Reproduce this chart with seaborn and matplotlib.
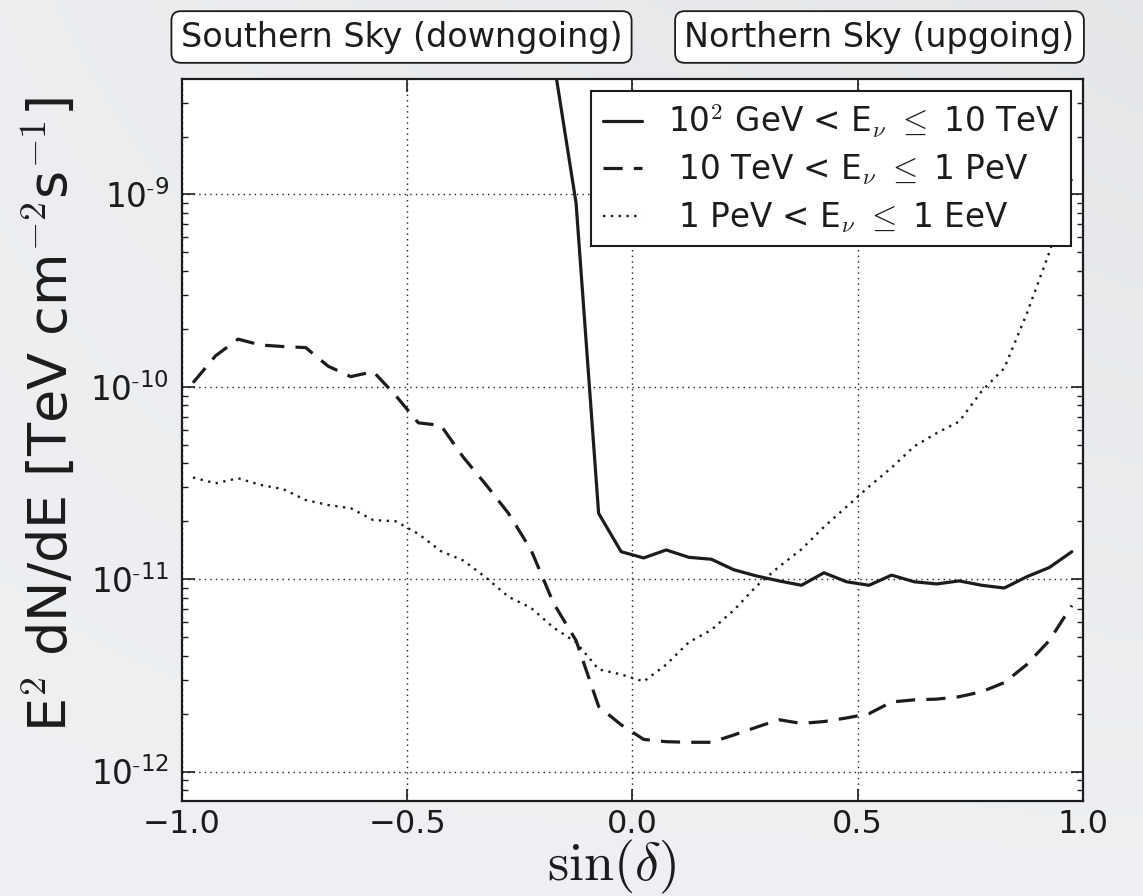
import numpy as np
import pandas as pd
import matplotlib
matplotlib.use("Agg")
import matplotlib.pyplot as plt
import seaborn as sns
from matplotlib.ticker import LogLocator, NullFormatter, FixedLocator

# ---------------- data ----------------
sin_dec = [-0.975, -0.925, -0.875, -0.825, -0.775, -0.725, -0.675, -0.625,
           -0.575, -0.525, -0.475, -0.425, -0.375, -0.325, -0.275, -0.225,
           -0.175, -0.125, -0.075, -0.025, 0.025, 0.075, 0.125, 0.175,
           0.225, 0.275, 0.325, 0.375, 0.425, 0.475, 0.525, 0.575,
           0.625, 0.675, 0.725, 0.775, 0.825, 0.875, 0.925, 0.975]

sin_dec_low = [-0.175, -0.125, -0.075, -0.025, 0.025, 0.075, 0.125, 0.175,
               0.225, 0.275, 0.325, 0.375, 0.425, 0.475, 0.525, 0.575,
               0.625, 0.675, 0.725, 0.775, 0.825, 0.875, 0.925, 0.975]

flux_low = [5.0e-9, 9.0e-10, 2.2e-11, 1.39e-11, 1.29e-11, 1.42e-11, 1.30e-11, 1.27e-11,
            1.12e-11, 1.04e-11, 9.8e-12, 9.3e-12, 1.08e-11, 9.7e-12, 9.3e-12, 1.05e-11,
            9.7e-12, 9.45e-12, 9.8e-12, 9.3e-12, 9.0e-12, 1.03e-11, 1.15e-11, 1.39e-11]

flux_mid = [1.05e-10, 1.45e-10, 1.77e-10, 1.65e-10, 1.62e-10, 1.60e-10, 1.28e-10, 1.13e-10,
            1.20e-10, 9.0e-11, 6.5e-11, 6.3e-11, 4.3e-11, 3.1e-11, 2.2e-11, 1.42e-11,
            7.5e-12, 4.8e-12, 2.18e-12, 1.75e-12, 1.47e-12, 1.43e-12, 1.42e-12, 1.42e-12,
            1.55e-12, 1.7e-12, 1.86e-12, 1.78e-12, 1.82e-12, 1.9e-12, 2.0e-12, 2.3e-12,
            2.36e-12, 2.38e-12, 2.45e-12, 2.6e-12, 2.9e-12, 3.6e-12, 4.8e-12, 7.3e-12]

flux_high = [3.38e-11, 3.15e-11, 3.35e-11, 3.09e-11, 2.94e-11, 2.58e-11, 2.43e-11, 2.34e-11,
             2.03e-11, 2.0e-11, 1.72e-11, 1.40e-11, 1.25e-11, 1.02e-11, 8.1e-12, 7.1e-12,
             5.6e-12, 4.7e-12, 3.4e-12, 3.2e-12, 2.94e-12, 3.6e-12, 4.7e-12, 5.45e-12,
             6.9e-12, 9.2e-12, 1.16e-11, 1.43e-11, 1.87e-11, 2.38e-11, 3.03e-11, 3.8e-11,
             4.9e-11, 5.75e-11, 6.6e-11, 9.5e-11, 1.25e-10, 2.4e-10, 5.0e-10, 1.2e-9]

labels = [r'10$^2$ GeV < E$_\nu$ $\leq$ 10 TeV',
          r' 10 TeV < E$_\nu$ $\leq$ 1 PeV',
          r' 1 PeV < E$_\nu$ $\leq$ 1 EeV']

x_ticks = [-1.0, -0.5, 0.0, 0.5, 1.0]
x_ticklabels = ['\u22121.0', '\u22120.5', '0.0', '0.5', '1.0']
y_ticks = [1e-12, 1e-11, 1e-10, 1e-9]
y_ticklabels = [r'$\mathdefault{10^{\text{-}12}}$', r'$\mathdefault{10^{\text{-}11}}$',
                r'$\mathdefault{10^{\text{-}10}}$', r'$\mathdefault{10^{\text{-}9}}$']

box_texts = ['Southern Sky (downgoing)', 'Northern Sky (upgoing)']

# ---------------- style ----------------
sns.set_theme(style='ticks')
plt.rcParams['font.family'] = ['DejaVu Sans']
plt.rcParams['mathtext.fontset'] = 'cm'
plt.rcParams['axes.unicode_minus'] = True

ink = '#1c1c1c'

fig = plt.figure(figsize=(11.43, 8.96), dpi=100)

# subtle slide-like background gradient
H, W = 896, 1143
gx = np.linspace(0.0, 1.0, W)[None, :]
gy = np.linspace(0.0, 1.0, H)[:, None]
shade = 0.935 - 0.03 * gx * (1.0 - gy) + 0.01 * gy
bg_img = np.dstack([shade - 0.012, shade - 0.004, shade + 0.006]).clip(0, 1)
bg_ax = fig.add_axes([0, 0, 1, 1], zorder=-10)
bg_ax.imshow(bg_img, aspect='auto', interpolation='bilinear')
bg_ax.set_axis_off()

ax = fig.add_axes([0.159, 0.1064, 0.7886, 0.8051])
ax.set_facecolor('white')

sns.lineplot(x=sin_dec_low, y=flux_low, ax=ax, color=ink, lw=2.3,
             estimator=None, sort=False, label=labels[0])
sns.lineplot(x=sin_dec, y=flux_mid, ax=ax, color=ink, lw=2.3,
             linestyle=(0, (6, 3.5)), estimator=None, sort=False, label=labels[1])
sns.lineplot(x=sin_dec, y=flux_high, ax=ax, color=ink, lw=1.7,
             linestyle=(0, (1, 2.3)), estimator=None, sort=False, label=labels[2])

ax.set_yscale('log')
ax.set_xlim(-1.0, 1.0)
ax.set_ylim(7.06e-13, 3.97e-9)

ax.set_xticks(x_ticks)
ax.set_xticklabels(x_ticklabels)
ax.yaxis.set_major_locator(FixedLocator(y_ticks))
ax.set_yticklabels(y_ticklabels)
ax.yaxis.set_minor_locator(LogLocator(base=10, subs=np.arange(2, 10), numticks=20))
ax.yaxis.set_minor_formatter(NullFormatter())

ax.tick_params(axis='both', which='major', direction='in', length=9, width=1.2,
               top=True, right=True, colors=ink)
ax.tick_params(axis='x', which='major', labelsize=23, pad=6)
ax.tick_params(axis='y', which='major', labelsize=23.5, pad=9)
ax.tick_params(axis='y', which='minor', direction='in', length=4.5, width=1.0,
               left=True, right=True, colors=ink)
for sp in ax.spines.values():
    sp.set_visible(True)
    sp.set_linewidth(1.6)
    sp.set_color(ink)

ax.grid(True, which='major', linestyle=(0, (1, 3)), color=ink, linewidth=1.0)

ax.set_ylabel(r'E$^2$ dN/dE [TeV cm$^{-2}$s$^{-1}$]', fontsize=39, color=ink)
ax.yaxis.set_label_coords(-0.116, 0.535)
ax.set_xlabel(r'$\sin(\delta)$', fontsize=39, color=ink)
ax.xaxis.set_label_coords(0.477, -0.052)

leg = ax.legend(loc='upper right', bbox_to_anchor=(0.9867, 0.9838), borderaxespad=0,
                fontsize=23.5, frameon=True, fancybox=False, handlelength=1.2,
                handletextpad=0.8, labelspacing=0.4, borderpad=0.35)
leg.get_frame().set_edgecolor(ink)
leg.get_frame().set_linewidth(1.5)
leg.get_frame().set_alpha(1.0)
for t in leg.get_texts():
    t.set_color(ink)

# header boxes above the plot
for txt, xc in zip(box_texts, [401.5 / 1143, 879.5 / 1143]):
    fig.text(xc, 1 - 37 / 896, txt, ha='center', va='center', fontsize=24, color=ink,
             bbox=dict(boxstyle='round,pad=0.28', facecolor='white', edgecolor=ink, linewidth=1.3))

fig.savefig('out.png', dpi=100)
